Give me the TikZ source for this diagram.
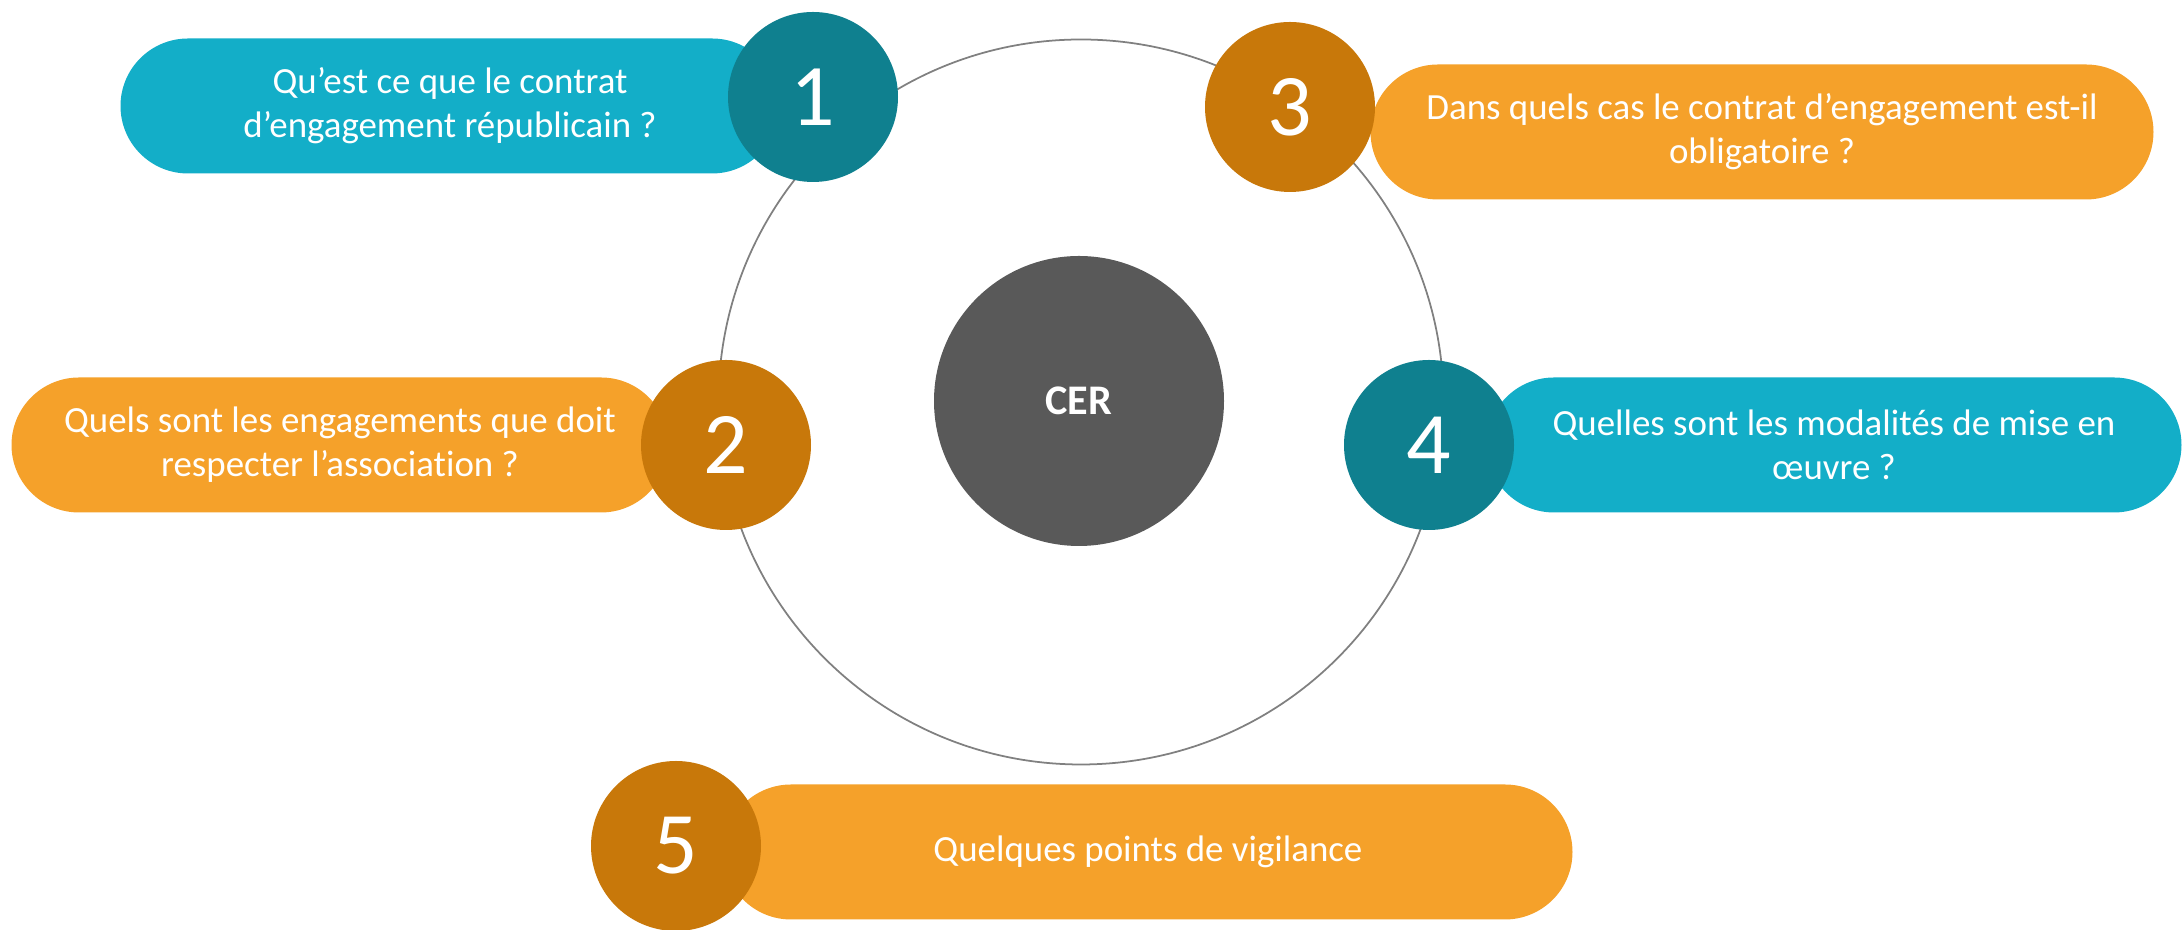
\documentclass[tikz,border=0pt]{standalone}
\usepackage{fontspec}
\setmainfont{Carlito}[Ligatures=NoCommon]
\usetikzlibrary{shapes.misc}
\definecolor{tealpill}{HTML}{13AEC8}
\definecolor{tealnum}{HTML}{0F808F}
\definecolor{orangepill}{HTML}{F5A12A}
\definecolor{orangenum}{HTML}{C8780A}
\definecolor{cergrey}{HTML}{595959}
\tikzstyle{pill} = [rounded rectangle, minimum height=1.35cm, inner sep=0pt,
    text=white, align=center, font=\fontsize{10.5}{12.5}\selectfont]
\tikzstyle{num} = [circle, minimum size=1.7cm, inner sep=0pt,
    text=white, font=\fontsize{25}{25}\selectfont]

\begin{document}
\begin{tikzpicture}[x=0.1mm,y=-0.1mm]
    \useasboundingbox (0,0) rectangle (2182,930);
    % ring and centre
    \node [draw=gray, line width=0.5pt, circle, minimum size=7.25cm] (ring) at (1081,402) {};
    \node [circle, fill=cergrey, minimum size=2.9cm, text=white, font=\fontsize{12}{12}\selectfont\bfseries] (cer) at (1079,401) {CER};
    % questions
    \node [pill, fill=tealpill, minimum width=6.59cm] (q1) at (450,106) {Qu’est ce que le contrat\\d’engagement républicain ?};
    \node [pill, fill=orangepill, minimum width=6.57cm] (q2) at (340,445) {Quels sont les engagements que doit\\respecter l’association ?};
    \node [pill, fill=orangepill, minimum width=7.83cm] (q3) at (1762,132) {Dans quels cas le contrat d’engagement est-il\\obligatoire ?};
    \node [pill, fill=tealpill, minimum width=6.95cm] (q4) at (1834,445) {Quelles sont les modalités de mise en\\œuvre ?};
    \node [pill, fill=orangepill, minimum width=8.49cm] (q5) at (1148,852) {Quelques points de vigilance};
    % numbers
    \node [num, fill=tealnum] (n1) at (813,97) {1};
    \node [num, fill=orangenum] (n2) at (726,445) {2};
    \node [num, fill=orangenum] (n3) at (1290,107) {3};
    \node [num, fill=tealnum] (n4) at (1429,445) {4};
    \node [num, fill=orangenum] (n5) at (676,846) {5};
\end{tikzpicture}
\end{document}
